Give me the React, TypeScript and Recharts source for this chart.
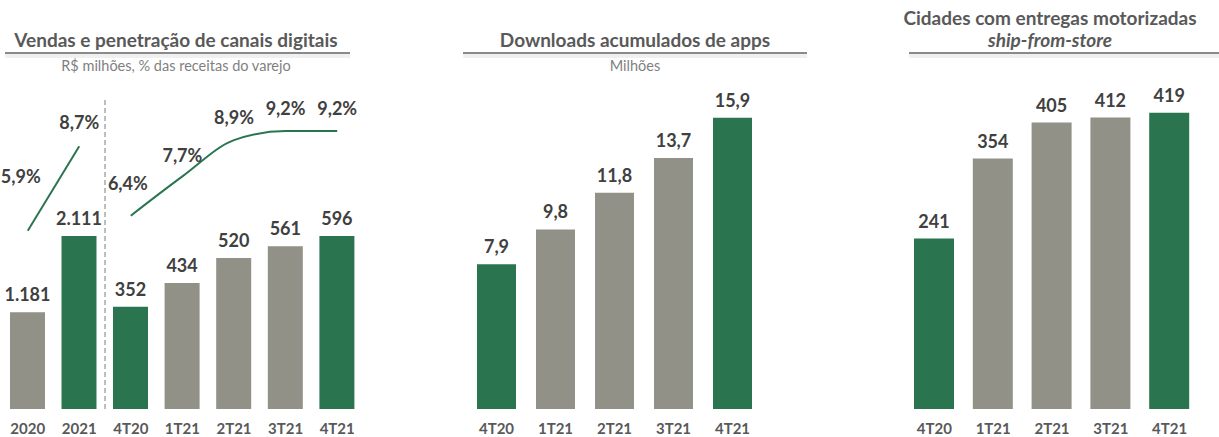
import React from 'react';
import {
  ComposedChart,
  BarChart,
  Bar,
  Line,
  XAxis,
  YAxis,
  Cell,
  LabelList,
} from 'recharts';

// cores e fonte
const GREEN = '#2a754f';
const GRAY = '#919188';
const LABEL = '#404040';
const TICK = '#595959';
const FONT = 'Lato, "Noto Sans", sans-serif';

// painel 1: vendas e penetração
const annualCats = ['2020', '2021'];
const annualSales = [1181, 2111];
const annualPen = [5.9, 8.7];
const annualColors = [GRAY, GREEN];

const quarterCats = ['4T20', '1T21', '2T21', '3T21', '4T21'];
const quarterSales = [352, 434, 520, 561, 596];
const quarterPen = [6.4, 7.7, 8.9, 9.2, 9.2];
const quarterColors = [GREEN, GRAY, GRAY, GRAY, GREEN];

// painel 2: downloads acumulados (milhões)
const downloads = [7.9, 9.8, 11.8, 13.7, 15.9];
// painel 3: cidades ship-from-store
const cities = [241, 354, 405, 412, 419];

// deslocamento dos rótulos de % em relação ao ponto
const annualPenShift = [
  [-7, -55],
  [0, -24],
];
const quarterPenShift = [
  [-3, -33],
  [0, -21],
  [0, -23],
  [0, -23],
  [0, -23],
];

const fmtThousands = (v: number) =>
  String(v).replace(/\B(?=(\d{3})+(?!\d))/g, '.');
const fmtDec = (v: number) => v.toFixed(1).replace('.', ',');
const fmtPct = (v: number) => fmtDec(v) + '%';

const annualData = annualCats.map((c, i) => ({ cat: c, sales: annualSales[i], pen: annualPen[i] }));
const quarterData = quarterCats.map((c, i) => ({ cat: c, sales: quarterSales[i], pen: quarterPen[i] }));
const downloadData = quarterCats.map((c, i) => ({ cat: c, v: downloads[i] }));
const cityData = quarterCats.map((c, i) => ({ cat: c, v: cities[i] }));

const TOP = 90;
const H = 437;

const tickStyle = { fill: TICK, fontSize: 15, fontWeight: 700, fontFamily: FONT };
const valueStyle = { fill: LABEL, fontSize: 18, fontWeight: 700, fontFamily: FONT };

function PenLabel(props: any) {
  const { x, y, value, index, shifts } = props;
  const s = shifts[index] || [0, -23];
  return (
    <text
      x={x + s[0]}
      y={y + s[1]}
      textAnchor="middle"
      dominantBaseline="central"
      fill={LABEL}
      fontSize={18}
      fontWeight={700}
      fontFamily={FONT}
    >
      {fmtPct(value)}
    </text>
  );
}

function Title({ left, width, lines, sub }: { left: number; width: number; lines: React.ReactNode[]; sub?: string }) {
  return (
    <>
      {lines.map((l, i) => (
        <div
          key={i}
          style={{
            position: 'absolute',
            left,
            width,
            top: lines.length === 1 ? 30 : 8 + i * 22,
            textAlign: 'center',
            fontSize: 19,
            fontWeight: 700,
            color: TICK,
            lineHeight: '20px',
            whiteSpace: 'nowrap',
          }}
        >
          {l}
        </div>
      ))}
      {sub && (
        <div
          style={{
            position: 'absolute',
            left,
            width,
            top: 58,
            textAlign: 'center',
            fontSize: 14.5,
            color: '#7f7f7f',
            lineHeight: '16px',
            whiteSpace: 'nowrap',
          }}
        >
          {sub}
        </div>
      )}
    </>
  );
}

function Rule({ left, width }: { left: number; width: number }) {
  return (
    <>
      <div style={{ position: 'absolute', left, width, top: 52, height: 2, background: '#8a8a8a' }} />
      <div style={{ position: 'absolute', left, width, top: 54, height: 4, background: '#f0f0f0' }} />
    </>
  );
}

function xAxis() {
  return (
    <XAxis
      dataKey="cat"
      axisLine={false}
      tickLine={false}
      tickSize={0}
      tickMargin={14}
      height={28}
      interval={0}
      tick={tickStyle}
    />
  );
}

export default function App() {
  return (
    <div
      style={{
        position: 'absolute',
        left: 0,
        top: 0,
        width: 1219,
        height: H,
        background: '#fff',
        fontFamily: FONT,
        overflow: 'hidden',
      }}
    >
      <Title left={0} width={352} lines={['Vendas e penetração de canais digitais']} sub="R$ milhões, % das receitas do varejo" />
      <Rule left={5} width={345} />
      <Title left={463} width={344} lines={['Downloads acumulados de apps']} sub="Milhões" />
      <Rule left={463} width={344} />
      <Title
        left={900}
        width={300}
        lines={['Cidades com entregas motorizadas', <i key="i">ship-from-store</i>]}
      />
      <Rule left={909} width={310} />

      <svg style={{ position: 'absolute', left: 0, top: 0 }} width={1219} height={H}>
        <line x1={105} y1={100} x2={105} y2={409} stroke="#9a9a9a" strokeWidth={1.3} strokeDasharray="5 3" />
      </svg>

      <div style={{ position: 'absolute', left: 0, top: 0 }}>
        <ComposedChart width={106} height={H} data={annualData} margin={{ top: TOP, right: 1, bottom: 0, left: 2 }} barSize={35}>
          {xAxis()}
          <YAxis yAxisId="sales" hide domain={[0, 3890]} allowDataOverflow />
          <YAxis yAxisId="pen" hide domain={[0, 10.56]} allowDataOverflow />
          <Bar yAxisId="sales" dataKey="sales" isAnimationActive={false}>
            {annualData.map((d, i) => (
              <Cell key={d.cat} fill={annualColors[i]} />
            ))}
            <LabelList dataKey="sales" position="top" offset={11} formatter={fmtThousands} {...valueStyle} />
          </Bar>
          <Line
            yAxisId="pen"
            type="monotone"
            dataKey="pen"
            stroke={GREEN}
            strokeWidth={2}
            dot={false}
            isAnimationActive={false}
            label={<PenLabel shifts={annualPenShift} />}
          />
        </ComposedChart>
      </div>

      <div style={{ position: 'absolute', left: 105, top: 0 }}>
        <ComposedChart width={260} height={H} data={quarterData} margin={{ top: TOP, right: 2, bottom: 0, left: 0 }} barSize={35}>
          {xAxis()}
          <YAxis yAxisId="sales" hide domain={[0, 1099]} allowDataOverflow />
          <YAxis yAxisId="pen" hide domain={[0, 10.56]} allowDataOverflow />
          <Bar yAxisId="sales" dataKey="sales" isAnimationActive={false}>
            {quarterData.map((d, i) => (
              <Cell key={d.cat} fill={quarterColors[i]} />
            ))}
            <LabelList dataKey="sales" position="top" offset={11} formatter={fmtThousands} {...valueStyle} />
          </Bar>
          <Line
            yAxisId="pen"
            type="monotone"
            dataKey="pen"
            stroke={GREEN}
            strokeWidth={2}
            dot={false}
            isAnimationActive={false}
            label={<PenLabel shifts={quarterPenShift} />}
          />
        </ComposedChart>
      </div>

      <div style={{ position: 'absolute', left: 467, top: 0 }}>
        <BarChart width={295} height={H} data={downloadData} margin={{ top: TOP, right: 0, bottom: 0, left: 0 }} barSize={39}>
          {xAxis()}
          <YAxis hide domain={[0, 17.41]} allowDataOverflow />
          <Bar dataKey="v" isAnimationActive={false}>
            {downloadData.map((d, i) => (
              <Cell key={d.cat} fill={quarterColors[i]} />
            ))}
            <LabelList dataKey="v" position="top" offset={11} formatter={fmtDec} {...valueStyle} />
          </Bar>
        </BarChart>
      </div>

      <div style={{ position: 'absolute', left: 905, top: 0 }}>
        <BarChart width={294} height={H} data={cityData} margin={{ top: TOP, right: 0, bottom: 0, left: 0 }} barSize={40}>
          {xAxis()}
          <YAxis hide domain={[0, 451]} allowDataOverflow />
          <Bar dataKey="v" isAnimationActive={false}>
            {cityData.map((d, i) => (
              <Cell key={d.cat} fill={quarterColors[i]} />
            ))}
            <LabelList dataKey="v" position="top" offset={11} {...valueStyle} />
          </Bar>
        </BarChart>
      </div>
    </div>
  );
}
